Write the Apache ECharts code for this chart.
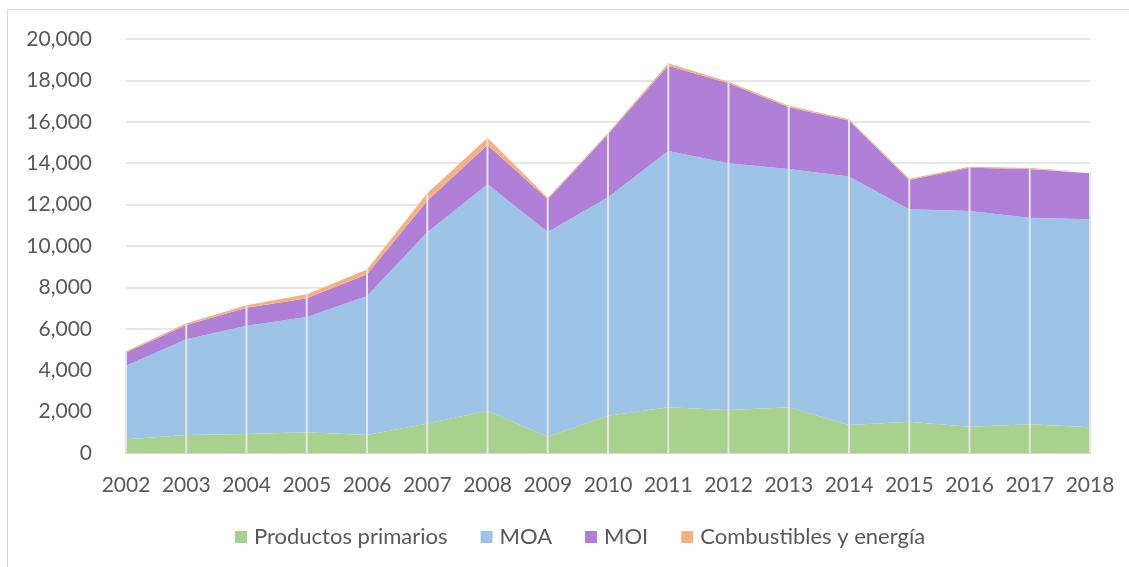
<!DOCTYPE html>
<html>
<head>
<meta charset="utf-8">
<script src="https://cdn.jsdelivr.net/npm/echarts@6/dist/echarts.min.js"></script>
<style>
  html, body { margin: 0; padding: 0; background: #fff; }
  #frame { position: absolute; left: 7px; top: 9px; width: 1200px; height: 600px;
           border-left: 1px solid #d9d9d9; border-top: 1px solid #d9d9d9; }
  #chart { position: absolute; left: 0; top: 0; width: 1129px; height: 567px; }
</style>
</head>
<body>
<div id="frame"></div>
<div id="chart"></div>
<script>
const years = ['2002', '2003', '2004', '2005', '2006', '2007', '2008', '2009', '2010',
  '2011', '2012', '2013', '2014', '2015', '2016', '2017', '2018']
const primarios = [660, 870, 920, 1000, 870, 1430, 2045, 790, 1800, 2205, 2075, 2205, 1355, 1510, 1270, 1385, 1240]
const moa = [3560, 4620, 5230, 5570, 6715, 9230, 10935, 9890, 10550, 12385, 11920, 11515, 12000, 10260, 10420, 9985, 10050]
const moi = [630, 690, 870, 900, 1045, 1530, 1900, 1575, 3045, 4120, 3865, 2980, 2705, 1420, 2095, 2350, 2220]
const combustibles = [65, 85, 115, 195, 240, 355, 350, 80, 65, 115, 80, 80, 65, 60, 45, 50, 65]

const totals = years.map((y, i) => primarios[i] + moa[i] + moi[i] + combustibles[i])

const font = 'Lato, "Open Sans", sans-serif'
const chart = echarts.init(document.getElementById('chart'))

function areaSeries(name, data, color) {
  return {
    name,
    type: 'line',
    stack: 'total',
    data,
    symbol: 'none',
    lineStyle: { width: 0 },
    areaStyle: { color, opacity: 1 },
    itemStyle: { color },
    emphasis: { disabled: true }
  }
}

chart.setOption({
  animation: false,
  grid: { left: 126, right: 39, top: 39, bottom: 114 },
  legend: {
    bottom: 14,
    left: 230,
    itemWidth: 12,
    itemHeight: 12,
    itemGap: 33,
    icon: 'rect',
    textStyle: { fontFamily: font, fontSize: 22, color: '#595959', padding: [0, 0, 0, 2] },
    data: ['Productos primarios', 'MOA', 'MOI', 'Combustibles y energía']
  },
  xAxis: {
    type: 'category',
    data: years,
    boundaryGap: false,
    axisLine: { lineStyle: { color: '#d9d9d9', width: 2 } },
    axisTick: { show: false },
    axisLabel: { fontFamily: font, fontSize: 21, color: '#595959', margin: 22, interval: 0 }
  },
  yAxis: {
    type: 'value',
    min: 0,
    max: 20000,
    interval: 2000,
    axisLine: { show: false },
    axisTick: { show: false },
    splitLine: { lineStyle: { color: '#e6e6e6', width: 2 } },
    axisLabel: {
      fontFamily: font, fontSize: 21, color: '#595959', margin: 34,
      formatter: (v) => v.toLocaleString('en-US')
    }
  },
  series: [
    areaSeries('Productos primarios', primarios, '#a9d18e'),
    areaSeries('MOA', moa, '#9dc3e6'),
    areaSeries('MOI', moi, '#b07fd7'),
    areaSeries('Combustibles y energía', combustibles, '#f4b183'),
    {
      // drop lines from the top of the stack down to the axis
      type: 'custom',
      data: totals.map((t, i) => [i, t]),
      z: 5,
      silent: true,
      renderItem: (params, api) => {
        const top = api.coord([api.value(0), api.value(1)])
        const base = api.coord([api.value(0), 0])
        return {
          type: 'line',
          shape: { x1: top[0], y1: top[1], x2: base[0], y2: base[1] },
          style: { stroke: '#e4e4e4', lineWidth: 2 }
        }
      }
    }
  ]
})
</script>
</body>
</html>
